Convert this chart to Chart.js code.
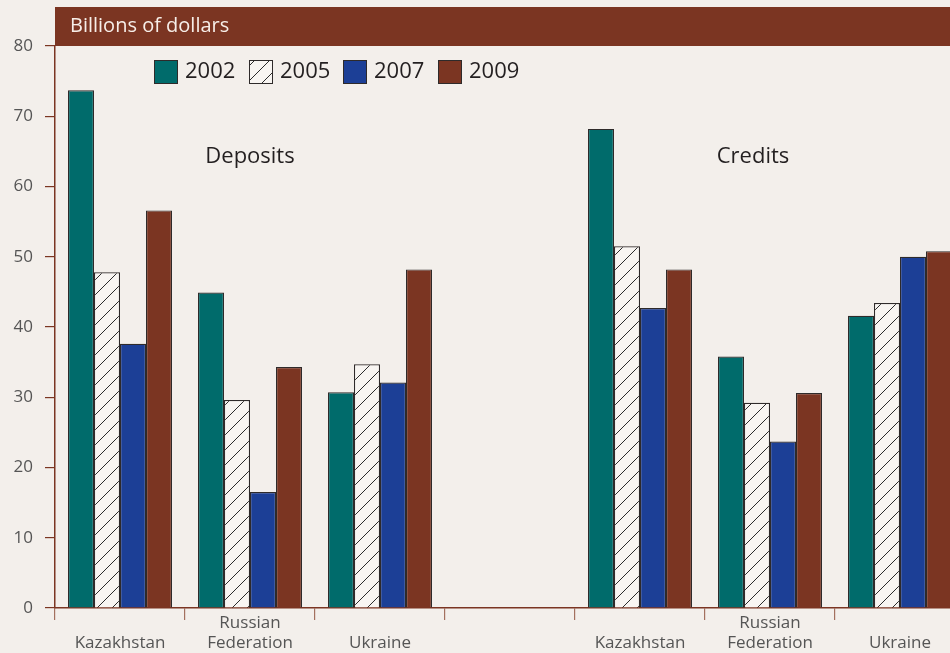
<!DOCTYPE html>
<html>
<head>
<meta charset="utf-8">
<script src="https://cdn.jsdelivr.net/npm/chart.js@4"></script>
<style>
html,body{margin:0;padding:0;background:#f3efeb;overflow:hidden;}
#wrap{width:950px;height:653px;overflow:hidden;position:relative;}
canvas{display:block;}
</style>
</head>
<body>
<div id="wrap"><canvas id="c" width="1000" height="653"></canvas></div>
<script>
// ---- data ----
const countryLabels = [['', 'Kazakhstan'], ['Russian', 'Federation'], ['', 'Ukraine'], ['', ''], ['', 'Kazakhstan'], ['Russian', 'Federation'], ['', 'Ukraine']];
const years = ['2002', '2005', '2007', '2009'];
const groupTitles = ['Deposits', 'Credits'];
const yTicks = [0, 10, 20, 30, 40, 50, 60, 70, 80];
const unitTitle = 'Billions of dollars';

const deposits2002 = [73.7, 44.9, 30.7];
const deposits2005 = [47.8, 29.6, 34.7];
const deposits2007 = [37.6, 16.5, 32.1];
const deposits2009 = [56.6, 34.3, 48.2];

const credits2002 = [68.2, 35.8, 41.6];
const credits2005 = [51.5, 29.2, 43.4];
const credits2007 = [42.7, 23.7, 50.0];
const credits2009 = [48.2, 30.6, 50.8];

// ---- styling ----
const FONT = '"Open Sans", "Noto Sans", sans-serif';
const BROWN = '#7b3522';
const canvas = document.getElementById('c');
const ctx = canvas.getContext('2d');

function hatchPattern() {
  const s = 15;
  const c = document.createElement('canvas');
  c.width = s; c.height = s;
  const x = c.getContext('2d');
  x.fillStyle = '#f8f5f2';
  x.fillRect(0, 0, s, s);
  x.strokeStyle = '#2b2b2b';
  x.lineWidth = 1;
  x.beginPath();
  x.moveTo(0, s); x.lineTo(s, 0);
  x.moveTo(-s/2, s/2); x.lineTo(s/2, -s/2);
  x.moveTo(s/2, s*1.5); x.lineTo(s*1.5, s/2);
  x.stroke();
  return ctx.createPattern(c, 'repeat');
}

const fills = ['#006b6b', hatchPattern(), '#1c3f96', BROWN];
const series = [
  deposits2002.concat([null], credits2002),
  deposits2005.concat([null], credits2005),
  deposits2007.concat([null], credits2007),
  deposits2009.concat([null], credits2009)
];

const datasets = years.map((y, i) => ({
  label: y,
  data: series[i],
  backgroundColor: fills[i],
  borderColor: '#2e2a2a',
  borderWidth: 1.2,
  categoryPercentage: 0.8,
  barPercentage: 1.0
}));

const decor = {
  id: 'decor',
  beforeDraw(chart) {
    const c = chart.ctx;
    c.save();
    c.fillStyle = '#f3efeb';
    c.fillRect(0, 0, chart.width, chart.height);
    // header band
    const left = chart.chartArea.left;
    c.fillStyle = BROWN;
    c.fillRect(left, 7, chart.width - left, chart.chartArea.top - 7);
    c.fillStyle = '#f7eee8';
    c.font = '20px ' + FONT;
    c.textBaseline = 'middle';
    c.textAlign = 'left';
    c.fillText(unitTitle, left + 15, 26);
    c.restore();
  },
  afterDraw(chart) {
    const c = chart.ctx;
    c.save();
    // legend
    const boxX = [154, 249, 343, 438];
    chart.data.datasets.forEach((ds, i) => {
      const bx = boxX[i], by = 60;
      c.fillStyle = ds.backgroundColor;
      c.fillRect(bx, by, 23, 23);
      c.strokeStyle = '#2e2a2a';
      c.lineWidth = 1;
      c.strokeRect(bx + 0.5, by + 0.5, 23, 23);
      c.fillStyle = '#231f20';
      c.font = '22px ' + FONT;
      c.textBaseline = 'middle';
      c.textAlign = 'left';
      c.fillText(ds.label, bx + 31, by + 12);
    });
    // group titles
    const xs = chart.scales.x;
    c.fillStyle = '#231f20';
    c.font = '22px ' + FONT;
    c.textAlign = 'center';
    c.textBaseline = 'middle';
    c.fillText(groupTitles[0], xs.getPixelForValue(1), 157);
    c.fillText(groupTitles[1], xs.getPixelForValue(5) - 17, 157);
    c.restore();
  }
};

new Chart(canvas, {
  type: 'bar',
  data: { labels: countryLabels, datasets },
  plugins: [decor],
  options: {
    responsive: false,
    animation: false,
    devicePixelRatio: 1,
    layout: { padding: { top: 46, right: 35, left: 0, bottom: 0 } },
    plugins: { legend: { display: false }, tooltip: { enabled: false } },
    scales: {
      x: {
        offset: true,
        grid: { display: true, offset: true, drawOnChartArea: false, drawTicks: true, tickLength: 12, tickColor: '#a3705e', lineWidth: 1.2 },
        border: { display: true, color: BROWN, width: 1.5 },
        ticks: { color: '#555', font: { family: FONT, size: 17 }, padding: -7, maxRotation: 0, autoSkip: false },
        afterFit(s) { s.height = 45; }
      },
      y: {
        min: 0, max: 80,
        afterBuildTicks(s) { s.ticks = yTicks.map(v => ({ value: v })); },
        grid: { display: true, drawOnChartArea: false, drawTicks: true, tickLength: 10, tickColor: BROWN, lineWidth: 1.2 },
        border: { display: true, color: BROWN, width: 1.5 },
        ticks: { color: '#555', font: { family: FONT, size: 17 }, padding: 12 },
        afterFit(s) { s.width = 55; }
      }
    }
  }
});
</script>
</body>
</html>
